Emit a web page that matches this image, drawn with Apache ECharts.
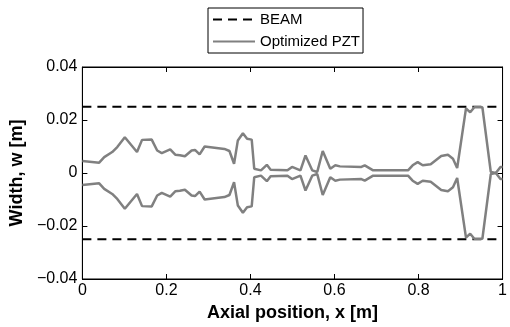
<!DOCTYPE html>
<html>
<head>
<meta charset="utf-8">
<script src="https://cdn.jsdelivr.net/npm/echarts@6/dist/echarts.min.js"></script>
<style>
  html, body {margin: 0; padding: 0; background: #fff;}
  #chart {width: 510px; height: 327px;}
</style>
</head>
<body>
<div id="chart"></div>
<script>
// axial positions and half width of the optimized PZT (lower edge is the mirror)
const xPos = [0, 0.04, 0.052, 0.071, 0.083, 0.101, 0.13, 0.142, 0.165, 0.178, 0.189, 0.209, 0.221, 0.232,
  0.244, 0.26, 0.268, 0.279, 0.291, 0.338, 0.35, 0.361, 0.37, 0.382, 0.392, 0.403, 0.409, 0.425, 0.439,
  0.448, 0.488, 0.499, 0.519, 0.531, 0.547, 0.559, 0.572, 0.59, 0.602, 0.613, 0.664, 0.672, 0.692, 0.775,
  0.786, 0.798, 0.81, 0.829, 0.854, 0.87, 0.882, 0.892, 0.913, 0.923, 0.933, 0.952, 0.972, 0.984, 0.995, 1.0];
const halfWidth = [0.0045, 0.0039, 0.006, 0.0079, 0.0098, 0.0135, 0.0079, 0.0125, 0.0126, 0.0085, 0.0075,
  0.0089, 0.0069, 0.0067, 0.0063, 0.0085, 0.0087, 0.007, 0.01, 0.0091, 0.0083, 0.0035, 0.0123, 0.015,
  0.0129, 0.0126, 0.0016, 0.001, 0.0031, 0.0012, 0.001, 0.0023, 0.001, 0.0066, 0.001, 0.0004, 0.0083,
  0.0016, 0.0029, 0.0025, 0.0023, 0.0029, 0.001, 0.001, 0.0029, 0.0041, 0.0029, 0.0033, 0.0064, 0.0069,
  0.0054, 0.0019, 0.0244, 0.0229, 0.0248, 0.0248, 0.0004, 0, 0.0023, 0.0023];
const beamX = [0, 1];
const beamHalf = 0.025;

const upper = xPos.map((x, i) => [x, halfWidth[i]]);
const lower = xPos.map((x, i) => [x, -halfWidth[i]]);
const beamTop = beamX.map(x => [x, beamHalf]);
const beamBot = beamX.map(x => [x, -beamHalf]);

const font = 'Liberation Sans, Arial, sans-serif';
const fmtY = v => v === 0 ? '0' : (v < 0 ? '\u2212' : '') + Math.abs(v).toFixed(2);
const fmtX = v => String(+v.toFixed(1));

const chart = echarts.init(document.getElementById('chart'));
const pzt = {type: 'line', name: 'Optimized PZT', showSymbol: false, symbol: 'none', animation: false,
  lineStyle: {color: '#808080', width: 2.5}, itemStyle: {color: '#808080'}};
const beam = {type: 'line', name: 'BEAM', showSymbol: false, symbol: 'none', animation: false,
  lineStyle: {color: '#000', width: 2, type: [9, 6]}, itemStyle: {color: '#000'}};

const axisBase = {
  axisLine: {show: true, onZero: false, lineStyle: {color: '#000'}},
  axisTick: {inside: true, length: 5, lineStyle: {color: '#000'}},
  splitLine: {show: false}
};

chart.setOption({
  backgroundColor: '#fff',
  animation: false,
  grid: {left: 81, right: 3, top: 67, bottom: 47, show: true, borderColor: '#000', borderWidth: 1},
  legend: {
    data: ['BEAM', 'Optimized PZT'],
    orient: 'vertical', left: 208, top: 8,
    padding: [4, 3, 4, 4], itemGap: 7, itemWidth: 42, itemHeight: 14,
    itemStyle: {opacity: 0},
    borderColor: '#000', borderWidth: 1, backgroundColor: '#fff',
    textStyle: {fontFamily: font, fontSize: 15, color: '#000'}
  },
  xAxis: [Object.assign({}, axisBase, {
    type: 'value', min: 0, max: 1, interval: 0.2,
    name: 'Axial position, x [m]', nameLocation: 'middle', nameGap: 25,
    nameTextStyle: {fontFamily: font, fontSize: 18, fontWeight: 'bold', color: '#000'},
    axisLabel: {fontFamily: font, fontSize: 16, color: '#000', margin: 4, formatter: fmtX}
  }), Object.assign({}, axisBase, {
    type: 'value', min: 0, max: 1, interval: 0.2, position: 'top',
    axisLabel: {show: false}
  })],
  yAxis: [Object.assign({}, axisBase, {
    type: 'value', min: -0.04, max: 0.04, interval: 0.02,
    name: 'Width, w [m]', nameLocation: 'middle', nameGap: 55, nameRotate: 90,
    nameTextStyle: {fontFamily: font, fontSize: 18, fontWeight: 'bold', color: '#000'},
    axisLabel: {fontFamily: font, fontSize: 16, color: '#000', margin: 5, formatter: fmtY}
  }), Object.assign({}, axisBase, {
    type: 'value', min: -0.04, max: 0.04, interval: 0.02, position: 'right',
    axisLabel: {show: false}
  })],
  series: [
    Object.assign({}, beam, {data: beamTop}),
    Object.assign({}, beam, {data: beamBot}),
    Object.assign({}, pzt, {data: upper}),
    Object.assign({}, pzt, {data: lower})
  ]
});
</script>
</body>
</html>
